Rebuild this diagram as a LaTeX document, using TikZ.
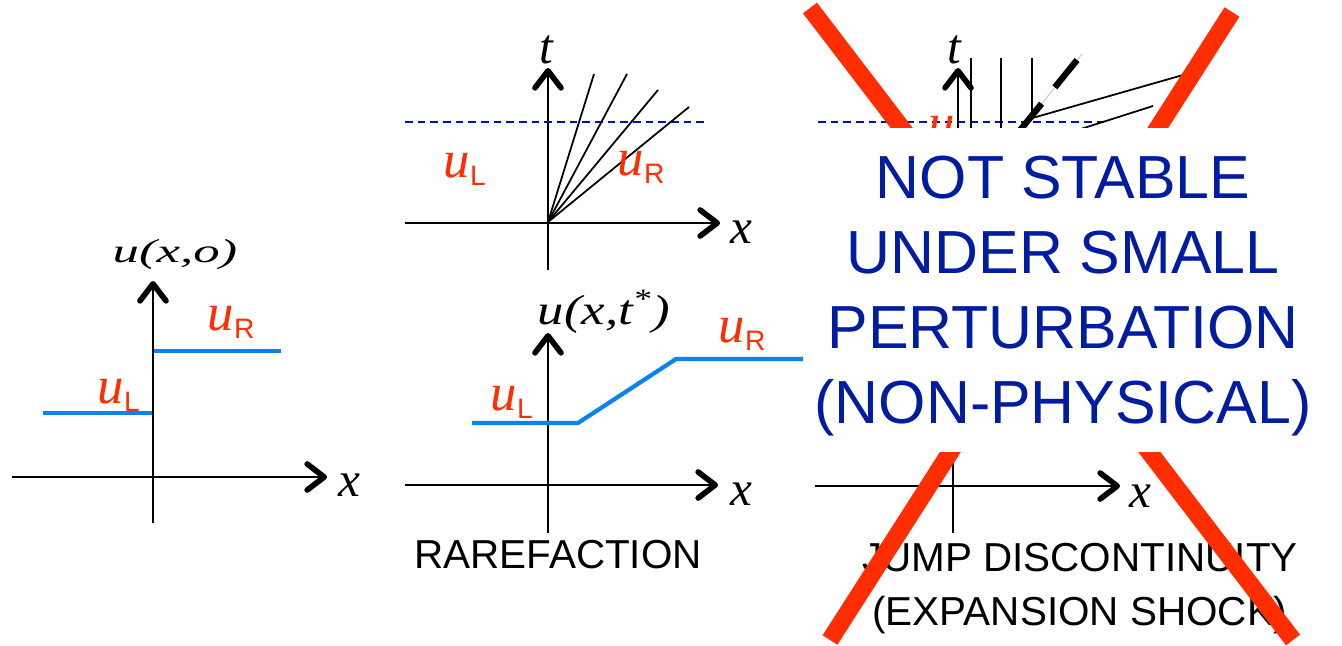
\documentclass[tikz,border=0pt]{standalone}
\usepackage{fontspec}
\setmainfont{Liberation Serif}
\setsansfont{Liberation Sans}
\usepackage{graphicx}
\usetikzlibrary{arrows.meta}
\definecolor{ured}{RGB}{255,45,0}
\definecolor{ublue}{RGB}{10,130,240}
\definecolor{tblue}{RGB}{0,28,160}
\definecolor{dblue}{RGB}{0,20,170}
\newcommand{\uval}[1]{\textit{u}\raisebox{-0.8mm}{\sffamily\fontsize{8}{8}\selectfont #1}}

\begin{document}
\begin{tikzpicture}[x=0.01cm,y=-0.01cm,
  axis/.style={line width=0.6pt,-{Straight Barb[length=1.7mm,width=2.6mm,line width=1.6pt,round]}},
  tickline/.style={line width=0.6pt},
  prof/.style={ublue,line width=1.2pt},
  var/.style={font=\fontsize{14}{14}\selectfont\itshape,inner sep=0pt,anchor=base},
  ulab/.style={text=ured,font=\fontsize{15}{15}\selectfont,inner sep=0pt,anchor=base west},
  charline/.style={line width=0.5pt},
  tline/.style={dblue,line width=0.6pt,dash pattern=on 2.2pt off 1.4pt},
  captext/.style={font=\sffamily\fontsize{11.5}{15.3}\selectfont,align=center,inner sep=0pt},
  warn/.style={font=\sffamily\fontsize{17.3}{21.35}\selectfont,text=tblue,align=center,inner sep=0pt},
  crossline/.style={ured,line width=5pt}]
  \useasboundingbox (0,0) rectangle (1342,645);

  \draw[axis] (12,477) -- (327,477);
  \draw[axis] (153,523) -- (153,281);
  \node[var] (xl) at (349,496) {x};
  \node[var,font=\fontsize{9.5}{9.5}\selectfont\itshape] (ul0) at (175,262) {\scalebox{1.58}[1]{u(x,o)}};
  \node[ulab] (ull) at (97,403) {\uval{L}};
  \node[ulab] (ulr) at (207,330) {\uval{R}};
  \draw[prof] (43,413) -- (152,413);
  \draw[prof] (154,351) -- (281,351);

  \draw[axis] (405,223) -- (720,223);
  \draw[axis] (548,270) -- (548,68);
  \node[var] (xt) at (741,243) {x};
  \node[var] (tt) at (546,63) {t};
  \draw[tline] (405,122) -- (705,122);
  \foreach \ex/\ey in {594/74,627/74,658/90,689/107}
    \draw[charline] (548,222) -- (\ex,\ey);
  \node[ulab] (utl) at (443,177) {\uval{L}};
  \node[ulab] (utr) at (617,175) {\uval{R}};

  \draw[axis] (405,485) -- (718,485);
  \draw[axis] (548,533) -- (548,333);
  \node[var] (xb) at (741,505) {x};
  \node[var,font=\fontsize{12}{12}\selectfont\itshape] (ust) at (604,324) {\scalebox{1.25}[1]{u(x,t\textsuperscript{*})}};
  \node[ulab] (ubl) at (490,410) {\uval{L}};
  \node[ulab] (ubr) at (718,342) {\uval{R}};
  \draw[prof] (472,423) -- (578,423) -- (676,359) -- (803,359);
  \node[captext,anchor=base] (rare) at (558,568) {RAREFACTION};

  \draw[tline] (818,122) -- (1107,122);
  \draw[axis] (958,150) -- (958,68);
  \node[var] (tr) at (954,63) {t};
  \foreach \vx in {971,1001}
    \draw[charline] (\vx,58) -- (\vx,150);
  \draw[charline] (1032,58) -- (1032,115);
  \draw[gray!40,line width=0.3pt] (1082,54) -- (1000,155);
  \draw[line width=1.8pt,dash pattern=on 10pt off 6pt] (1077,60) -- (1000,155);
  \draw[charline] (1029,119) -- (1183,75);
  \draw[charline] (1040,142) -- (1153,106);
  \node[ulab] (urt) at (928,140) {\uval{L}};

  \draw[axis] (815,486) -- (1120,486);
  \draw[tickline] (953,445) -- (953,533);
  \node[var] (xr) at (1140,507) {x};
  \node[captext,anchor=north] (jump) at (1080,543) {JUMP DISCONTINUITY\\(EXPANSION SHOCK)};

  \draw[crossline] (810,8) -- (1293,640);
  \draw[crossline] (1232,12) -- (830,640);

  \fill[white] (805,128) rectangle (1342,452);
  \node[warn,anchor=north] (note) at (1063,155) {NOT STABLE\\UNDER SMALL\\PERTURBATION\\(NON-PHYSICAL)};
\end{tikzpicture}
\end{document}
